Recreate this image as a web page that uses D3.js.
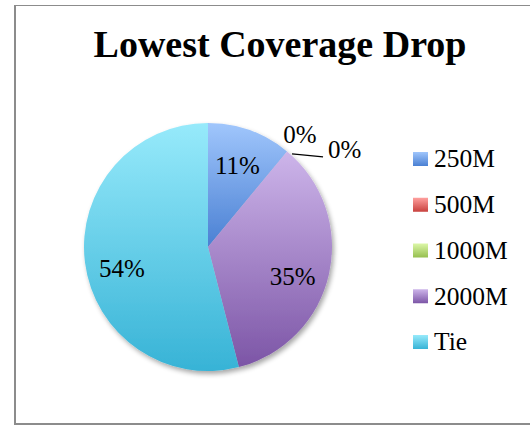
<!DOCTYPE html>
<html>
<head>
<meta charset="utf-8">
<script src="https://cdn.jsdelivr.net/npm/d3@7"></script>
<style>
  html, body { margin: 0; padding: 0; background: #fff; }
  svg { display: block; }
  text { font-family: "Liberation Serif", "Times New Roman", serif; fill: #000; }
</style>
</head>
<body>
<svg id="chart" width="530" height="426"></svg>
<script>
// Share of runs by the configuration with the lowest coverage drop (percent)
const categories = ["250M", "500M", "1000M", "2000M", "Tie"];
const shares = [11, 0, 0, 35, 54];
const percentLabels = ["11%", "0%", "0%", "35%", "54%"];
const chartTitle = "Lowest Coverage Drop";

// Light (top) and dark (bottom) stops for each slice's vertical gradient
const gradientTop = ["#a0c6fc", "#ffa09e", "#dcf7a8", "#cdb5ea", "#97eafb"];
const gradientBottom = ["#4a80d3", "#c8413e", "#96bf4f", "#7c55a6", "#37b3d6"];

const svg = d3.select("#chart");
const W = 530, H = 426;

// Outer frame (the right side runs off the page)
const frame = svg.append("g").attr("stroke", "#8c8c8c").attr("fill", "none");
frame.append("line").attr("x1", 15).attr("x2", W).attr("y1", 5.5).attr("y2", 5.5).attr("stroke-width", 1);
frame.append("line").attr("x1", 15).attr("x2", 15).attr("y1", 5).attr("y2", 425).attr("stroke-width", 2);
frame.append("line").attr("x1", 15).attr("x2", W).attr("y1", 424).attr("y2", 424).attr("stroke-width", 2);

// Title
svg.append("text")
  .attr("x", 280).attr("y", 57)
  .attr("text-anchor", "middle")
  .style("font-size", "38px")
  .style("font-weight", "bold")
  .text(chartTitle);

// Gradients
const defs = svg.append("defs");
categories.forEach((c, i) => {
  const g = defs.append("linearGradient")
    .attr("id", "grad" + i)
    .attr("x1", 0).attr("y1", 0).attr("x2", 0).attr("y2", 1);
  g.append("stop").attr("offset", "0%").attr("stop-color", gradientTop[i]);
  g.append("stop").attr("offset", "100%").attr("stop-color", gradientBottom[i]);
});
const shadow = defs.append("filter").attr("id", "pieShadow")
  .attr("x", "-20%").attr("y", "-20%").attr("width", "140%").attr("height", "140%");
shadow.append("feGaussianBlur").attr("in", "SourceAlpha").attr("stdDeviation", 2.5).attr("result", "b");
shadow.append("feOffset").attr("in", "b").attr("dx", 2).attr("dy", 3).attr("result", "o");
shadow.append("feComponentTransfer").attr("in", "o").attr("result", "s")
  .append("feFuncA").attr("type", "linear").attr("slope", 0.35);
const merge = shadow.append("feMerge");
merge.append("feMergeNode").attr("in", "s");
merge.append("feMergeNode").attr("in", "SourceGraphic");

// Pie
const cx = 208, cy = 247, radius = 124;
const pie = d3.pie().sort(null).value(d => d)(shares);
const arc = d3.arc().innerRadius(0).outerRadius(radius);
const labelArc = d3.arc().innerRadius(radius * 0.7).outerRadius(radius * 0.7);

const g = svg.append("g").attr("transform", `translate(${cx},${cy})`);
g.append("g").attr("filter", "url(#pieShadow)")
  .selectAll("path")
  .data(pie)
  .join("path")
  .attr("d", arc)
  .attr("fill", (d, i) => `url(#grad${i})`);

// Slice labels: inside for non-empty slices, outside for empty ones
const fontSize = 25;
let zeroCount = 0;
pie.forEach((d, i) => {
  if (d.value > 0) {
    const [x, y] = labelArc.centroid(d);
    // labels in the lower half sit a little lower, below the centroid
    const drop = y > 0 ? 10 : 0;
    g.append("text")
      .attr("x", x).attr("y", y + drop)
      .attr("dy", "0.35em")
      .attr("text-anchor", "middle")
      .style("font-size", fontSize + "px")
      .text(percentLabels[i]);
  } else {
    const a = d.startAngle;
    const rimX = Math.sin(a) * radius, rimY = -Math.cos(a) * radius;
    if (zeroCount === 0) {
      const lx = Math.sin(a) * radius * 1.1, ly = -Math.cos(a) * radius * 1.1;
      g.append("text")
        .attr("x", lx + 5).attr("y", ly + 1)
        .attr("text-anchor", "middle")
        .style("font-size", fontSize + "px")
        .text(percentLabels[i]);
    } else {
      const ex = rimX + 36, ey = rimY + 5.5;
      g.append("line")
        .attr("x1", rimX + 5).attr("y1", rimY + 2.5)
        .attr("x2", ex).attr("y2", ey)
        .attr("stroke", "#000").attr("stroke-width", 1.3);
      g.append("text")
        .attr("x", ex + 5).attr("y", ey + 1)
        .attr("text-anchor", "start")
        .style("font-size", fontSize + "px")
        .text(percentLabels[i]);
    }
    zeroCount++;
  }
});

// Legend
const legendY = d3.scalePoint().domain(categories).range([159, 342]);
const legend = svg.append("g");
categories.forEach((c, i) => {
  const y = legendY(c);
  legend.append("rect")
    .attr("x", 413).attr("y", y - 7)
    .attr("width", 15).attr("height", 14)
    .attr("fill", `url(#grad${i})`);
  legend.append("text")
    .attr("x", 434).attr("y", y)
    .attr("dy", "0.33em")
    .style("font-size", "25.5px")
    .text(c);
});
</script>
</body>
</html>
